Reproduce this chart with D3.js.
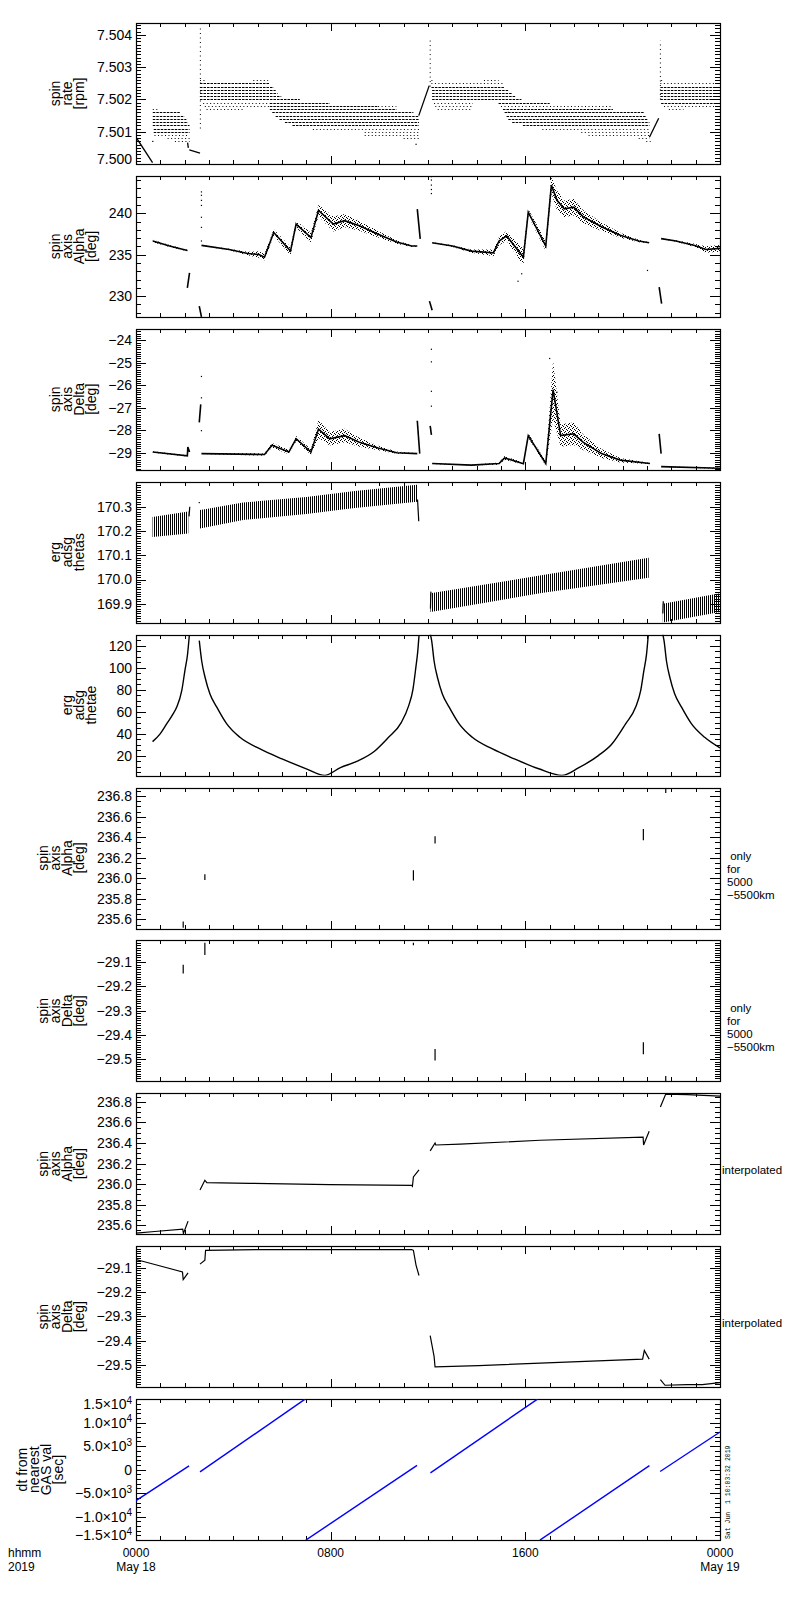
<!DOCTYPE html>
<html>
<head>
<meta charset="utf-8">
<script src="https://cdn.jsdelivr.net/npm/d3@7"></script>
<style>
  body { margin: 0; background: #fff; }
  text { font-family: "Liberation Sans", Arial, sans-serif; fill: #000; }
</style>
</head>
<body>
<div id="chart"></div>
<script>
// ---- values; time is hours after 0000 May 18 2019 ----

// panel 1: spin rate [rpm]  (quantised rows of points: [level, tStart, tEnd])
const rateRowsDense = [
  [7.5016, 0.69, 1.8], [7.5015, 0.69, 1.99], [7.5014, 0.69, 2.07], [7.5013, 0.69, 2.14],
  [7.5012, 0.69, 2.2], [7.5011, 0.73, 2.2], [7.5010, 0.73, 2.2],
  [7.5025, 2.63, 5.5], [7.5024, 2.63, 5.66], [7.5023, 2.63, 5.74], [7.5022, 2.63, 5.82],
  [7.5021, 2.63, 5.97], [7.5020, 2.63, 6.73],
  [7.5019, 5.5, 7.96], [7.5018, 5.5, 9.95], [7.5017, 5.5, 10.7], [7.5016, 5.6, 11.4],
  [7.5015, 5.74, 11.63], [7.5014, 5.9, 11.63], [7.5013, 6.12, 11.63], [7.5012, 6.43, 11.63],
  [7.5024, 12.14, 15.15], [7.5023, 12.17, 15.3], [7.5022, 12.17, 15.46], [7.5021, 12.17, 15.6],
  [7.5020, 12.17, 15.84],
  [7.5019, 14.9, 17.0], [7.5017, 15.08, 19.6], [7.5016, 15.15, 20.9], [7.5015, 15.23, 20.97],
  [7.5014, 15.3, 21.05], [7.5013, 15.46, 21.1], [7.5012, 15.9, 21.1],
  [7.5024, 21.55, 24], [7.5023, 21.55, 24], [7.5022, 21.55, 24], [7.5021, 21.55, 24],
  [7.5020, 21.55, 24], [7.5019, 21.58, 24]
];
const rateRowsSparse = [
  [7.5017, 0.69, 0.95], [7.5009, 0.76, 2.2], [7.5008, 1.3, 2.2], [7.5007, 1.6, 2.2],
  [7.5026, 2.63, 2.85], [7.5026, 4.82, 5.43], [7.5019, 2.76, 5.5], [7.5018, 2.83, 5.5],
  [7.5017, 2.9, 4.4],
  [7.5018, 9.95, 10.7], [7.5011, 7.27, 11.63], [7.5010, 9.4, 11.63], [7.5009, 9.4, 11.63],
  [7.5008, 11.0, 11.63],
  [7.5026, 12.14, 12.25], [7.5026, 14.3, 14.9], [7.5025, 12.14, 15.15], [7.5019, 12.25, 13.85],
  [7.5018, 12.3, 13.85], [7.5017, 12.4, 13.8],
  [7.5018, 15.0, 19.6], [7.5011, 16.7, 21.1], [7.5010, 18.3, 21.1], [7.5009, 18.6, 21.1],
  [7.5008, 20.66, 21.1], [7.5007, 20.97, 21.15],
  [7.5026, 21.58, 21.7], [7.5025, 21.55, 24], [7.5018, 21.7, 24], [7.5017, 21.9, 22.5]
];
const rateLines = [
  [[0, 7.50083], [0.68, 7.50004]],
  [[2.12, 7.50066], [2.15, 7.5005]],
  [[2.19, 7.50044], [2.63, 7.50034]],
  [[11.62, 7.5015], [12.05, 7.50243]],
  [[21.1, 7.50083], [21.48, 7.50142]]
];
const rateSpikes = [[2.645, 7.5011, 7.5043], [12.09, 7.5024, 7.5039], [21.55, 7.5020, 7.50382]];
const rateDots = [[0.69, 7.5007], [11.51, 7.50061], [15.3, 7.5016]];

// panel 2: spin axis Alpha [deg]  ([t, value, scatter half-width])
const alphaTrack = [
  [[0.69, 236.65, 0.15], [1.38, 236.04, 0.12], [2.11, 235.51, 0.1]],
  [[2.11, 231.0, 0], [2.2, 232.8, 0]],
  [[2.6, 228.8, 0], [2.69, 227.5, 0]],
  [[2.69, 236.12, 0.05], [3.83, 235.63, 0.1], [4.59, 235.14, 0.2], [5.05, 235.02, 0.4],
   [5.28, 234.69, 0.4], [5.66, 237.67, 0.4], [6.35, 235.43, 0.5], [6.58, 238.69, 0.4],
   [7.19, 237.06, 0.6], [7.5, 240.33, 0.7], [8.11, 238.69, 0.9], [8.57, 239.1, 0.8],
   [9.18, 238.49, 0.6], [9.95, 237.47, 0.4], [10.71, 236.53, 0.2], [11.33, 236.04, 0.1],
   [11.56, 236.04, 0.05]],
  [[11.56, 240.5, 0], [11.68, 236.9, 0]],
  [[12.06, 229.4, 0], [12.17, 228.3, 0]],
  [[12.17, 236.45, 0.05], [13.01, 236.04, 0.1], [13.78, 235.43, 0.2], [14.69, 235.22, 0.4],
   [14.92, 236.65, 0.5], [15.23, 237.27, 0.6], [15.92, 234.69, 1.0], [16.12, 240.12, 0.4],
   [16.84, 236.04, 0.6], [17.07, 243.39, 1.0], [17.3, 241.55, 1.2], [17.6, 240.53, 1.0],
   [17.99, 240.73, 1.0], [18.37, 239.59, 0.8], [19.13, 238.37, 0.5], [19.9, 237.35, 0.3],
   [20.66, 236.65, 0.15], [21.09, 236.45, 0.05]],
  [[21.5, 231.1, 0], [21.6, 229.1, 0]],
  [[21.58, 236.94, 0.05], [22.19, 236.65, 0.1], [22.96, 236.12, 0.2], [23.42, 235.63, 0.4],
   [24, 235.76, 0.4]]
];
const alphaDots = [
  [2.69, 242.57], [2.69, 242.16], [2.69, 241.55], [2.69, 240.94], [2.69, 239.51],
  [2.69, 238.29], [2.69, 236.65],
  [12.14, 244.41], [12.14, 244.0], [12.14, 243.39], [12.14, 242.86], [12.14, 242.37],
  [15.7, 231.8], [15.85, 232.7], [21.02, 233.1]
];

// panel 3: spin axis Delta [deg]
const deltaTrack = [
  [[0.69, -28.96, 0.03], [2.11, -29.13, 0.03], [2.13, -28.74, 0], [2.2, -28.96, 0]],
  [[2.6, -27.64, 0], [2.66, -26.84, 0]],
  [[2.69, -29.03, 0.02], [5.28, -29.07, 0.05], [5.59, -28.66, 0.1], [6.28, -28.96, 0.1],
   [6.58, -28.37, 0.12], [7.19, -28.96, 0.12], [7.5, -27.94, 0.4], [7.96, -28.37, 0.3],
   [8.57, -28.23, 0.3], [9.18, -28.52, 0.2], [9.95, -28.78, 0.1], [10.71, -28.99, 0.05],
   [11.56, -29.03, 0.02]],
  [[11.56, -27.57, 0], [11.66, -29.03, 0]],
  [[12.09, -27.8, 0], [12.14, -28.2, 0]],
  [[12.17, -29.47, 0.02], [13.78, -29.54, 0.02], [14.92, -29.47, 0.05], [15.15, -29.22, 0.08],
   [15.92, -29.48, 0.05], [16.12, -28.23, 0.1], [16.84, -29.47, 0.1], [17.14, -26.19, 1.3],
   [17.45, -28.23, 0.5], [17.99, -28.15, 0.5], [18.37, -28.52, 0.35], [19.13, -29.03, 0.2],
   [19.9, -29.32, 0.1], [21.12, -29.47, 0.02]],
  [[21.5, -28.15, 0], [21.58, -29.03, 0]],
  [[21.58, -29.61, 0.02], [24, -29.68, 0.02]]
];
const deltaDots = [
  [2.69, -25.6], [2.69, -26.55], [2.69, -28.01],
  [12.14, -24.39], [12.14, -24.95], [12.14, -26.26], [12.14, -26.92],
  [17.0, -24.8], [17.3, -26.3]
];

// panel 4: erg adsg thetas  ([t, low, high] of the oscillation band)
const thetasBands = [
  [[0.68, 170.175, 170.258], [2.15, 170.19, 170.28]],
  [[2.63, 170.21, 170.286], [4.4, 170.245, 170.317], [7.0, 170.27, 170.34],
   [9.0, 170.295, 170.365], [11.55, 170.32, 170.39]],
  [[12.1, 169.866, 169.943], [16.6, 169.943, 170.016], [21.07, 170.007, 170.09]],
  [[21.65, 169.823, 169.9], [24, 169.866, 169.943]]
];
const thetasLines = [
  [[2.18, 170.26], [2.21, 170.30]],
  [[11.57, 170.33], [11.62, 170.24]],
  [[12.1, 169.88], [12.12, 169.95]],
  [[21.65, 169.86], [21.67, 169.91]]
];
const thetasDots = [[2.6, 170.317]];

// panel 5: erg adsg thetae
const thetaeCurves = [
  [[0.68, 32.7], [1.0, 40], [1.26, 48.8], [1.5, 57], [1.67, 63.9], [1.88, 79], [2.01, 97.3],
   [2.12, 112.4], [2.19, 129]],
  [[2.6, 124.5], [2.7, 106], [2.84, 91], [3.04, 76], [3.32, 64], [3.73, 48.8], [4.27, 36.6],
   [5.1, 26], [6.0, 17], [7.0, 8], [7.75, 2], [8.4, 9], [9.1, 15], [9.8, 24], [10.35, 36],
   [10.9, 50], [11.2, 65], [11.38, 80], [11.5, 100], [11.58, 115], [11.63, 129]],
  [[12.1, 130], [12.15, 124.5], [12.25, 106], [12.39, 91], [12.59, 76], [12.87, 64],
   [13.28, 48.8], [13.82, 36.6], [14.65, 26], [15.55, 17], [16.55, 8], [17.5, 2], [18.2, 9],
   [19.0, 20], [19.54, 30], [20.12, 48.8], [20.53, 63.9], [20.74, 79], [20.87, 97],
   [20.98, 112], [21.05, 129]],
  [[21.65, 130], [21.7, 124.5], [21.8, 106], [21.94, 91], [22.14, 76], [22.42, 64],
   [22.83, 48.8], [23.37, 36.6], [24, 27]]
];

// panels 6, 7: spin axis only for 5000-5500 km  ([t, from, to])
const alphaGood = [[1.94, 235.58, 235.52], [2.83, 236.04, 235.985], [11.4, 236.08, 235.98],
  [12.29, 236.41, 236.34], [20.85, 236.48, 236.37], [21.77, 236.88, 236.83]];
const deltaGood = [[1.94, -29.111, -29.147], [2.83, -29.02, -29.07], [11.4, -29.02, -29.03],
  [12.29, -29.458, -29.506], [20.85, -29.43, -29.48], [21.77, -29.57, -29.59]];

// panels 8, 9: interpolated spin axis
const alphaInterp = [
  [[0, 235.524], [0.77, 235.539], [1.92, 235.562], [1.95, 235.52], [2.14, 235.64]],
  [[2.63, 235.943], [2.83, 236.038], [2.91, 236.015], [4.67, 236.008], [7.96, 235.996],
   [11.33, 235.989], [11.36, 235.98], [11.4, 236.07], [11.63, 236.14]],
  [[12.09, 236.324], [12.29, 236.4], [12.32, 236.381], [13.32, 236.389], [16.61, 236.427],
   [20.84, 236.457], [20.86, 236.381], [21.09, 236.514]],
  [[21.55, 236.75], [21.77, 236.876], [22.65, 236.872], [24, 236.857]]
];
const deltaInterp = [
  [[0, -29.065], [0.31, -29.073], [1.91, -29.116], [1.94, -29.148], [2.14, -29.12]],
  [[2.63, -29.084], [2.83, -29.068], [2.86, -29.027], [5.05, -29.024], [11.33, -29.024],
   [11.4, -29.027], [11.51, -29.089], [11.63, -29.131]],
  [[12.09, -29.379], [12.25, -29.465], [12.29, -29.508], [14.08, -29.503], [20.82, -29.476],
   [20.89, -29.44], [21.09, -29.476]],
  [[21.55, -29.561], [21.74, -29.584], [22.65, -29.581], [23.27, -29.581], [24, -29.573]]
];

// panel 10: dt from nearest GAS val [sec]
const gasDt = [
  [[0, -6600], [2.18, 800]],
  [[2.63, -500], [6.95, 15000]],
  [[6.98, -15000], [11.55, 900]],
  [[12.1, -700], [16.5, 15000]],
  [[16.6, -15000], [21.1, 860]],
  [[21.54, -400], [24, 8000]]
];

// tick values and labels
const rateTicks = [7.500, 7.501, 7.502, 7.503, 7.504];
const alphaTicks = [230, 235, 240];
const deltaTicks = [-29, -28, -27, -26, -25, -24];
const thetasTicks = [169.9, 170.0, 170.1, 170.2, 170.3];
const thetaeTicks = [20, 40, 60, 80, 100, 120];
const alphaFineTicks = [235.6, 235.8, 236.0, 236.2, 236.4, 236.6, 236.8];
const deltaFineTicks = [-29.5, -29.4, -29.3, -29.2, -29.1];
const dtTicks = [-15000, -10000, -5000, 0, 5000, 10000, 15000];
const timeTicks = [0, 8, 16, 24];
const timeLabels = [["0000", "May 18"], ["0800"], ["1600"], ["0000", "May 19"]];
const cornerLabel = ["hhmm", "2019"];

const rateLabel = ["spin", "rate", "[rpm]"];
const alphaLabel = ["spin", "axis", "Alpha", "[deg]"];
const deltaLabel = ["spin", "axis", "Delta", "[deg]"];
const thetasLabel = ["erg", "adsg", "thetas"];
const thetaeLabel = ["erg", "adsg", "thetae"];
const dtLabel = ["dt from", "nearest", "GAS val", "[sec]"];
const onlyNote = [" only", "for", "5000", "\u22125500km"];
const interpNote = ["interpolated"];

// ---- layout ----
const L = 136, R = 720, PH = 141;
const tops = d3.range(10).map(i => 23 + i * 152.9);

const svg = d3.select("#chart").append("svg")
  .attr("width", 800).attr("height", 1600);

const defs = svg.append("defs");
const stip = defs.append("pattern").attr("id", "stip")
  .attr("width", 4).attr("height", 4).attr("patternUnits", "userSpaceOnUse");
[[0, 0], [2, 1], [1, 3], [3, 2]].forEach(p =>
  stip.append("rect").attr("x", p[0]).attr("y", p[1]).attr("width", 1).attr("height", 1).attr("fill", "#000"));
const hatch = defs.append("pattern").attr("id", "hatch")
  .attr("width", 2).attr("height", 4).attr("patternUnits", "userSpaceOnUse");
hatch.append("rect").attr("width", 1).attr("height", 4).attr("fill", "#000");

const x = d3.scaleLinear().domain([0, 24]).range([L, R]);

const sciFmt = d => {
  if (d === 0) return [["0", false]];
  const e = Math.floor(Math.log10(Math.abs(d)));
  const m = Math.abs(d) / Math.pow(10, e);
  return [[(d < 0 ? "\u2212" : "") + m.toFixed(1) + "\u00d710", false], [String(e), true]];
};

const panels = [
  {domain: [7.5000, 7.50437], ticks: rateTicks, minor: 0.0001, fmt: d3.format(".3f"), label: rateLabel},
  {domain: [227.5, 244.5], ticks: alphaTicks, minor: 1, fmt: d3.format("d"), label: alphaLabel},
  {domain: [-29.75, -23.48], ticks: deltaTicks, minor: 0.1, fmt: d3.format("d"), label: deltaLabel},
  {domain: [169.822, 170.403], ticks: thetasTicks, minor: 0.01, fmt: d3.format(".1f"), label: thetasLabel},
  {domain: [1.8, 130], ticks: thetaeTicks, minor: 5, fmt: d3.format("d"), label: thetaeLabel},
  {domain: [235.512, 236.884], ticks: alphaFineTicks, minor: 0.05, fmt: d3.format(".1f"), label: alphaLabel, note: onlyNote},
  {domain: [-29.592, -29.01], ticks: deltaFineTicks, minor: 0.01, fmt: d3.format(".1f"), label: deltaLabel, note: onlyNote},
  {domain: [235.512, 236.884], ticks: alphaFineTicks, minor: 0.05, fmt: d3.format(".1f"), label: alphaLabel, note: interpNote},
  {domain: [-29.592, -29.01], ticks: deltaFineTicks, minor: 0.01, fmt: d3.format(".1f"), label: deltaLabel, note: interpNote},
  {domain: [-15000, 15000], ticks: dtTicks, minor: 1000, fmt: null, label: dtLabel}
];

function minorValues(domain, step) {
  const k0 = Math.ceil(domain[0] / step - 1e-6), k1 = Math.floor(domain[1] / step + 1e-6);
  return d3.range(k0, k1 + 1).map(k => +(k * step).toFixed(6));
}

function styleAxis(g) {
  g.attr("font-size", 14).attr("font-family", null).attr("shape-rendering", "crispEdges");
  g.select(".domain").remove();
}

panels.forEach((p, i) => {
  const top = tops[i], bottom = top + PH;
  const y = d3.scaleLinear().domain(p.domain).range([bottom, top]);
  p.y = y;

  defs.append("clipPath").attr("id", "clip" + i)
    .append("rect").attr("x", L).attr("y", top).attr("width", R - L).attr("height", PH);

  // x ticks, top and bottom, pointing inward
  const hourTicks = d3.range(0, 25);
  [[d3.axisBottom, bottom], [d3.axisTop, top]].forEach(([ax, yy]) => {
    svg.append("g").attr("transform", `translate(0,${yy})`)
      .call(ax(x).tickValues(hourTicks).tickSize(-4).tickFormat(""))
      .call(styleAxis);
    svg.append("g").attr("transform", `translate(0,${yy})`)
      .call(ax(x).tickValues(timeTicks).tickSize(-8).tickFormat(""))
      .call(styleAxis);
  });

  // y ticks, left with labels, right without
  const minor = minorValues(p.domain, p.minor);
  const left = svg.append("g").attr("transform", `translate(${L},0)`)
    .call(d3.axisLeft(y).tickValues(p.ticks).tickSize(-10).tickPadding(4)
      .tickFormat(p.fmt ? p.fmt : () => ""))
    .call(styleAxis);
  if (!p.fmt) {
    left.selectAll(".tick text").each(function (d) {
      const t = d3.select(this);
      sciFmt(d).forEach(([s, sup]) => {
        t.append("tspan").attr("font-size", sup ? 10 : 14)
          .attr("dy", sup ? "-0.55em" : null).text(s);
      });
    });
  }
  // keep edge labels inside the panel height
  left.selectAll(".tick text").attr("y", d => {
    const yy = y(d);
    if (yy - top < 5) return 5 - (yy - top);
    if (bottom - yy < 5) return -(5 - (bottom - yy));
    return 0;
  });
  svg.append("g").attr("transform", `translate(${L},0)`)
    .call(d3.axisLeft(y).tickValues(minor).tickSize(-5).tickFormat(""))
    .call(styleAxis);
  svg.append("g").attr("transform", `translate(${R},0)`)
    .call(d3.axisRight(y).tickValues(p.ticks).tickSize(-10).tickFormat(""))
    .call(styleAxis);
  svg.append("g").attr("transform", `translate(${R},0)`)
    .call(d3.axisRight(y).tickValues(minor).tickSize(-5).tickFormat(""))
    .call(styleAxis);

  // frame
  svg.append("rect").attr("x", L + 0.5).attr("y", Math.round(top) + 0.5)
    .attr("width", R - L).attr("height", PH)
    .attr("fill", "none").attr("stroke", "#000").attr("stroke-width", 1.2);

  // y title, rotated, lines stacked left to right
  const bb = left.node().getBBox();
  const lastBase = L + bb.x - 12.5;
  const cy = top + PH / 2;
  p.label.forEach((s, k) => {
    svg.append("text")
      .attr("transform", `translate(${lastBase - (p.label.length - 1 - k) * 12},${cy}) rotate(-90)`)
      .attr("text-anchor", "middle").attr("font-size", 14).text(s);
  });

  // right-hand note, one text element with a line per tspan
  if (p.note) {
    const many = p.note.length > 1;
    const xx = many ? 727 : 722;
    const t = svg.append("text").attr("x", xx).attr("y", top + (many ? 72 : 81))
      .attr("font-size", 11.5).style("white-space", "pre");
    p.note.forEach((s, k) => {
      t.append("tspan").attr("x", xx).attr("dy", k ? 13 : 0).text(s);
    });
  }
});

// ---- marks ----
const plot = i => svg.append("g").attr("clip-path", `url(#clip${i})`);
const line = y => d3.line().x(d => x(d[0])).y(d => y(d[1]));
const crisp = v => Math.round(v) + 0.5;

// panel 1
{
  const y = panels[0].y, g = plot(0);
  const rows = (data, dash) => g.append("g").selectAll("line").data(data).join("line")
    .attr("x1", d => x(d[1])).attr("x2", d => x(d[2]))
    .attr("y1", d => crisp(y(d[0]))).attr("y2", d => crisp(y(d[0])))
    .attr("stroke", "#000").attr("stroke-width", 1).attr("stroke-dasharray", dash);
  rows(rateRowsDense, "2.5,1");
  rows(rateRowsSparse, "1,2.5");
  g.append("g").selectAll("line").data(rateSpikes).join("line")
    .attr("x1", d => x(d[0])).attr("x2", d => x(d[0]))
    .attr("y1", d => y(d[1])).attr("y2", d => y(d[2]))
    .attr("stroke", "#000").attr("stroke-width", 1).attr("stroke-dasharray", "1,3.5");
  g.append("g").selectAll("path").data(rateLines).join("path")
    .attr("d", line(y)).attr("fill", "none").attr("stroke", "#000").attr("stroke-width", 1.3);
  g.append("g").selectAll("rect").data(rateDots).join("rect")
    .attr("x", d => x(d[0]) - 0.6).attr("y", d => y(d[1]) - 0.6)
    .attr("width", 1.2).attr("height", 1.2).attr("fill", "#000");
}

// panels 2, 3
[[1, alphaTrack, alphaDots], [2, deltaTrack, deltaDots]].forEach(([i, track, dots]) => {
  const y = panels[i].y, g = plot(i);
  const band = d3.area().x(d => x(d[0])).y0(d => y(d[1] - d[2])).y1(d => y(d[1] + d[2]));
  g.append("g").selectAll("path").data(track).join("path")
    .attr("d", band).attr("fill", "url(#stip)");
  g.append("g").selectAll("path").data(track).join("path")
    .attr("d", line(y)).attr("fill", "none").attr("stroke", "#000").attr("stroke-width", 1.6);
  g.append("g").selectAll("rect").data(dots).join("rect")
    .attr("x", d => x(d[0]) - 0.6).attr("y", d => y(d[1]) - 0.6)
    .attr("width", 1.2).attr("height", 1.2).attr("fill", "#000");
});

// panel 4
{
  const y = panels[3].y, g = plot(3);
  const band = d3.area().x(d => x(d[0])).y0(d => y(d[1])).y1(d => y(d[2]));
  g.append("g").selectAll("path").data(thetasBands).join("path")
    .attr("d", band).attr("fill", "url(#hatch)");
  g.append("g").selectAll("path").data(thetasLines).join("path")
    .attr("d", line(y)).attr("fill", "none").attr("stroke", "#000").attr("stroke-width", 1.2);
  g.append("g").selectAll("rect").data(thetasDots).join("rect")
    .attr("x", d => x(d[0]) - 0.6).attr("y", d => y(d[1]) - 0.6)
    .attr("width", 1.2).attr("height", 1.2).attr("fill", "#000");
}

// panel 5
{
  const y = panels[4].y, g = plot(4);
  g.append("g").selectAll("path").data(thetaeCurves).join("path")
    .attr("d", line(y).curve(d3.curveMonotoneX))
    .attr("fill", "none").attr("stroke", "#000").attr("stroke-width", 1.4);
}

// panels 6, 7
[[5, alphaGood], [6, deltaGood]].forEach(([i, data]) => {
  const y = panels[i].y, g = plot(i);
  g.append("g").selectAll("line").data(data).join("line")
    .attr("x1", d => x(d[0])).attr("x2", d => x(d[0]))
    .attr("y1", d => y(d[1])).attr("y2", d => y(d[2]))
    .attr("stroke", "#000").attr("stroke-width", 1.2);
});

// panels 8, 9
[[7, alphaInterp], [8, deltaInterp]].forEach(([i, data]) => {
  const y = panels[i].y, g = plot(i);
  g.append("g").selectAll("path").data(data).join("path")
    .attr("d", line(y)).attr("fill", "none").attr("stroke", "#000").attr("stroke-width", 1.2);
});

// panel 10
{
  const y = panels[9].y, g = plot(9);
  g.append("g").selectAll("path").data(gasDt).join("path")
    .attr("d", line(y)).attr("fill", "none").attr("stroke", "#0000ff").attr("stroke-width", 1.4);
}

// ---- time axis labels (two lines each, spaced so they do not collide) ----
const bottomY = tops[9] + PH;
const twoLine = (xx, lines, anchor) => {
  lines.forEach((s, j) => svg.append("text").attr("x", xx).attr("y", bottomY + 17 + j * 14)
    .attr("text-anchor", anchor).attr("font-size", 12).text(s));
};
timeTicks.forEach((t, k) => twoLine(x(t), timeLabels[k], "middle"));
twoLine(8, cornerLabel, "start");

// creation stamp
svg.append("text")
  .attr("transform", `translate(730,${bottomY - 1}) rotate(-90)`)
  .attr("font-size", 6.5).style("font-family", "'Liberation Mono', monospace")
  .style("white-space", "pre").text("Sat Jun  1 10:03:32 2019");
</script>
</body>
</html>
